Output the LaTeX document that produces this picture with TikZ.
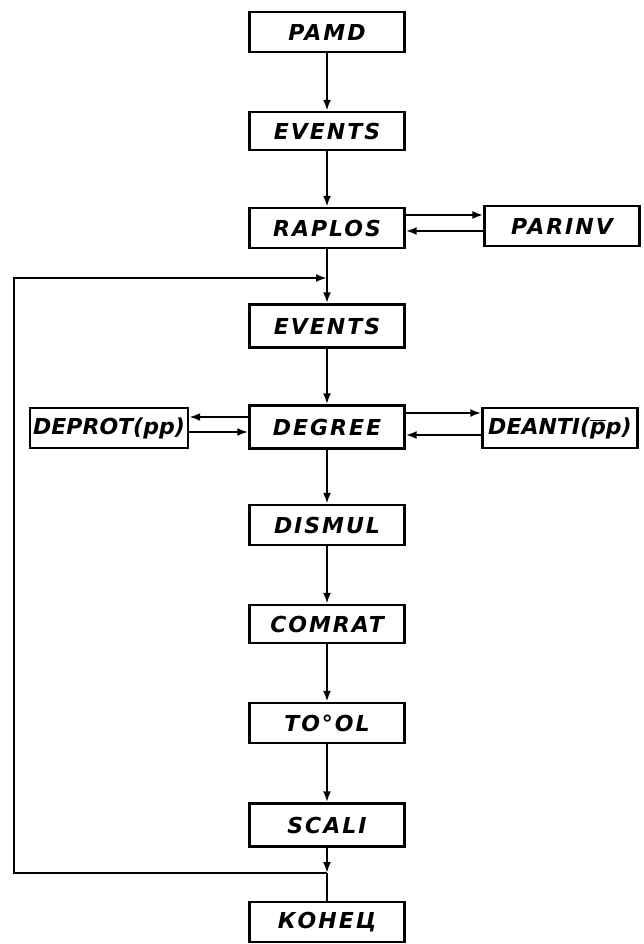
\documentclass[tikz,border=0pt]{standalone}
\usepackage{fontspec}
\setmainfont{DejaVu Sans}
\newfontfamily\flowfont[LetterSpace=9]{DejaVu Sans Bold Oblique}
\newfontfamily\sidefont[LetterSpace=0]{DejaVu Sans Bold Oblique}
\usetikzlibrary{arrows.meta}

\begin{document}
\begin{tikzpicture}[x=1pt,y=-1pt,
        prog/.style={draw,line width=2.4pt,minimum width=155pt,minimum height=40pt,inner sep=0pt,
            font=\flowfont\fontsize{22}{24}\selectfont},
        side/.style={prog,font=\sidefont\fontsize{22}{24}\selectfont},
        flow/.style={line width=2.2pt,-{Latex[length=11pt,width=8pt]}},
        link/.style={line width=2.2pt}]
        \useasboundingbox (0,0) rectangle (643,944);
        \node[prog] (pamd) at (327,32) {PAMD};
        \node[prog,minimum height=38pt] (events1) at (327,131) {EVENTS};
        \node[prog] (raplos) at (327,228) {RAPLOS};
        \node[prog] (parinv) at (562,226) {PARINV};
        \node[prog,minimum height=43pt] (events2) at (327,326) {EVENTS};
        \node[prog,minimum height=43pt] (degree) at (327,427) {DEGREE};
        \node[side,minimum width=158pt] (deprot) at (109,428) {DEPROT(pp)};
        \node[side] (deanti) at (560,428) {DEANTI($\overline{\mbox{p}}$p)};
        \node[prog] (dismul) at (327,525) {DISMUL};
        \node[prog,minimum height=38pt] (comrat) at (327,624) {COMRAT};
        \node[prog] (topol) at (327,723) {TO°OL};
        \node[prog,minimum height=43pt] (scali) at (327,825) {SCALI};
        \node[prog] (konec) at (327,922) {КОНЕЦ};
        \coordinate (jtop) at (327,278);
        \coordinate (jbot) at (327,873);
        \coordinate (back) at (14,873);
        \draw[flow] (pamd) -- (events1);
        \draw[flow] (events1) -- (raplos);
        \draw[flow] (raplos.east |- 0,215) -- (parinv.west |- 0,215);
        \draw[flow] (parinv.west |- 0,231) -- (raplos.east |- 0,231);
        \draw[flow] (raplos) -- (events2);
        \draw[flow] (events2) -- (degree);
        \draw[flow] (degree.west |- 0,417) -- (deprot.east |- 0,417);
        \draw[flow] (deprot.east |- 0,432) -- (degree.west |- 0,432);
        \draw[flow] (degree.east |- 0,413) -- (deanti.west |- 0,413);
        \draw[flow] (deanti.west |- 0,435) -- (degree.east |- 0,435);
        \draw[flow] (degree) -- (dismul);
        \draw[flow] (dismul) -- (comrat);
        \draw[flow] (comrat) -- (topol);
        \draw[flow] (topol) -- (scali);
        \draw[flow] (scali) -- (jbot);
        \draw[link] (jbot) -- (konec);
        \draw[flow] (jbot) -- (back) |- (jtop);
    \end{tikzpicture}
\end{document}
